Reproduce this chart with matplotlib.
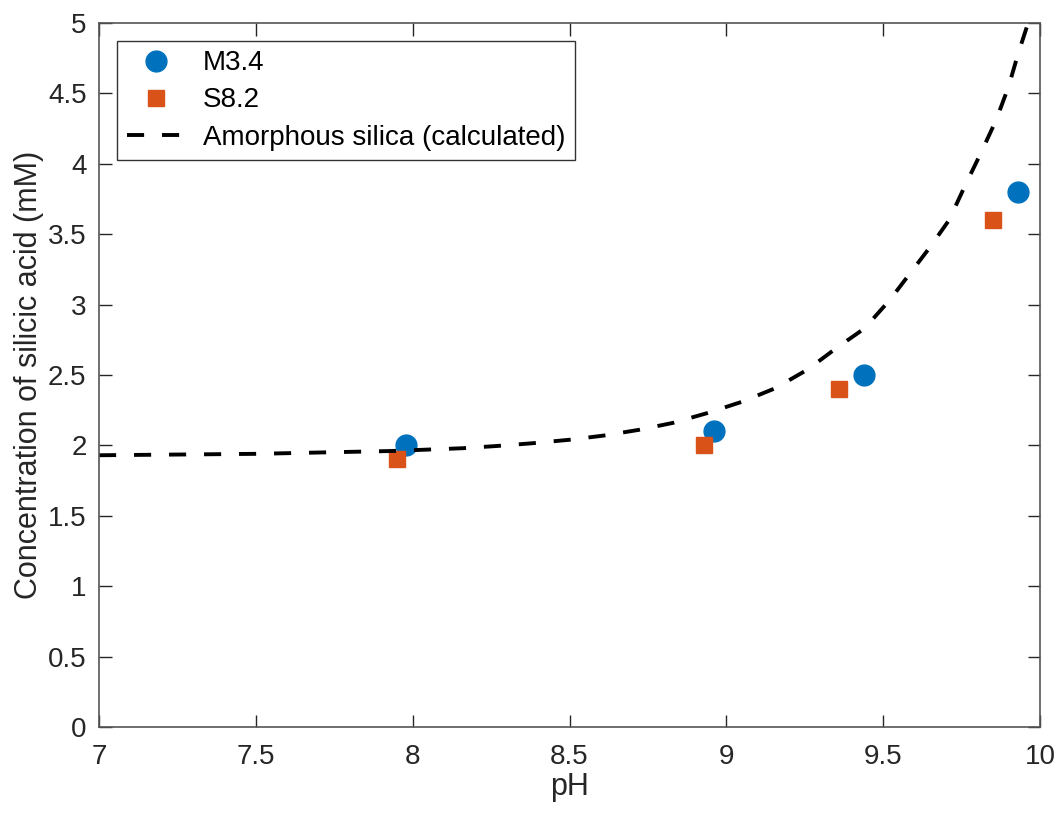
import numpy as np
import matplotlib.pyplot as plt

plt.rcParams['font.family'] = ['Liberation Sans', 'DejaVu Sans']

# measured silicic acid concentrations (mM) vs pH
m34_ph = [7.98, 8.96, 9.44, 9.93]
m34_conc = [2.0, 2.1, 2.5, 3.8]
s82_ph = [7.95, 8.93, 9.36, 9.85]
s82_conc = [1.9, 2.0, 2.4, 3.6]

# calculated amorphous silica solubility
calc_ph = [7.0, 7.5, 7.82, 7.93, 8.045, 8.16, 8.27, 8.38, 8.50, 8.61, 8.72, 8.83,
           8.94, 9.05, 9.155, 9.26, 9.35, 9.44, 9.52, 9.585, 9.65, 9.71, 9.76,
           9.81, 9.86, 9.90, 9.93, 9.962]
calc_conc = [1.93, 1.94, 1.955, 1.96, 1.97, 1.98, 1.996, 2.015, 2.04, 2.07, 2.11, 2.16,
             2.23, 2.31, 2.405, 2.54, 2.69, 2.83, 3.03, 3.22, 3.41, 3.60, 3.84,
             4.07, 4.31, 4.55, 4.78, 5.0]

txt = '#262626'
fig = plt.figure(figsize=(10.58, 8.13), dpi=100)
ax = fig.add_axes([0.0936, 0.1058, 0.8894, 0.8659])

ax.plot(m34_ph, m34_conc, 'o', color='#0072BD', markersize=15, label='M3.4')
ax.plot(s82_ph, s82_conc, 's', color='#D95319', markersize=12, label='S8.2')
ax.plot(calc_ph, calc_conc, color='black', linewidth=2.8, dashes=(4.4, 4.6),
        label='Amorphous silica (calculated)')

ax.set_xlim(7, 10)
ax.set_ylim(0, 5)
ax.set_xticks(np.arange(7, 10.01, 0.5))
ax.set_yticks(np.arange(0, 5.01, 0.5))
ax.set_xticklabels(['7', '7.5', '8', '8.5', '9', '9.5', '10'])
ax.set_yticklabels(['0', '0.5', '1', '1.5', '2', '2.5', '3', '3.5', '4', '4.5', '5'])
ax.tick_params(direction='in', top=True, right=True, length=9, width=1,
               color=txt, labelcolor=txt, labelsize=20)
ax.tick_params(axis='x', pad=12)
ax.tick_params(axis='y', pad=9)
for s in ax.spines.values():
    s.set_color('#555555')
    s.set_linewidth(1.2)

ax.set_xlabel('pH', fontsize=22, color=txt, labelpad=2)
ax.set_ylabel('Concentration of silicic acid (mM)', fontsize=22, color=txt, labelpad=3)

leg = ax.legend(loc='upper left', bbox_to_anchor=(0.019, 0.975), fontsize=20,
                fancybox=False, framealpha=1, edgecolor='#333333',
                handlelength=2.1, handletextpad=0.65, borderpad=0.35,
                borderaxespad=0, labelspacing=0.4)
for t in leg.get_texts():
    t.set_color('black')
leg.get_frame().set_linewidth(1.0)

fig.savefig('out.png', dpi=100)
